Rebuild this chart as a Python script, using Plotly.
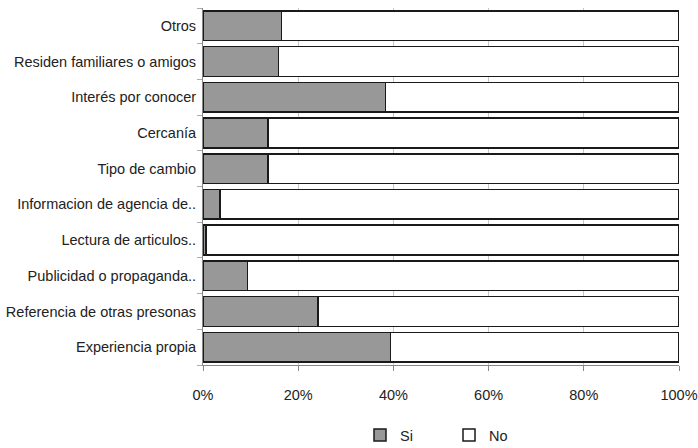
import plotly.graph_objects as go

categories = [
    "Experiencia propia",
    "Referencia de otras presonas",
    "Publicidad o propaganda..",
    "Lectura de articulos..",
    "Informacion de agencia de..",
    "Tipo de cambio",
    "Cercanía",
    "Interés por conocer",
    "Residen familiares o amigos",
    "Otros",
]
si_values = [39.4, 24.2, 9.4, 0.6, 3.6, 13.7, 13.7, 38.3, 15.9, 16.5]
no_values = [60.6, 75.8, 90.6, 99.4, 96.4, 86.3, 86.3, 61.7, 84.1, 83.5]
x_ticks = [0, 20, 40, 60, 80, 100]
x_tick_labels = ["0%", "20%", "40%", "60%", "80%", "100%"]

FONT = "Liberation Sans, Arial, sans-serif"

fig = go.Figure()
fig.add_trace(go.Bar(
    y=categories, x=si_values, name="Si", orientation="h",
    marker=dict(color="#989898", line=dict(color="#1a1a1a", width=1.5)),
))
fig.add_trace(go.Bar(
    y=categories, x=no_values, name="No", orientation="h",
    marker=dict(color="#ffffff", line=dict(color="#1a1a1a", width=1.5)),
))

fig.update_layout(
    barmode="stack",
    bargap=0.17,
    width=698, height=448,
    margin=dict(l=203, r=19, t=8, b=83),
    paper_bgcolor="white", plot_bgcolor="white",
    font=dict(family=FONT, size=14.5, color="#222222"),
    showlegend=True,
    legend=dict(orientation="h", xref="container", yref="container",
                x=360 / 698, xanchor="left", y=(448 - 435) / 448, yanchor="middle",
                font=dict(size=14.5), entrywidth=44, entrywidthmode="pixels",
                traceorder="normal"),
    xaxis=dict(
        range=[0, 100], tickvals=x_ticks, ticktext=x_tick_labels,
        showgrid=True, gridcolor="#c8c8c8", gridwidth=1,
        showline=True, linecolor="#888888", linewidth=1,
        ticks="outside", ticklen=5, tickcolor="#888888",
        zeroline=False, fixedrange=True, automargin=False,
        ticklabelstandoff=12,
    ),
    yaxis=dict(
        categoryorder="array", categoryarray=categories,
        showline=True, linecolor="#888888", linewidth=1,
        ticks="outside", ticklen=5, tickcolor="#aaaaaa", tickson="boundaries",
        showgrid=False, ticklabelstandoff=3, automargin=False,
    ),
)

fig.write_html("out.html")
